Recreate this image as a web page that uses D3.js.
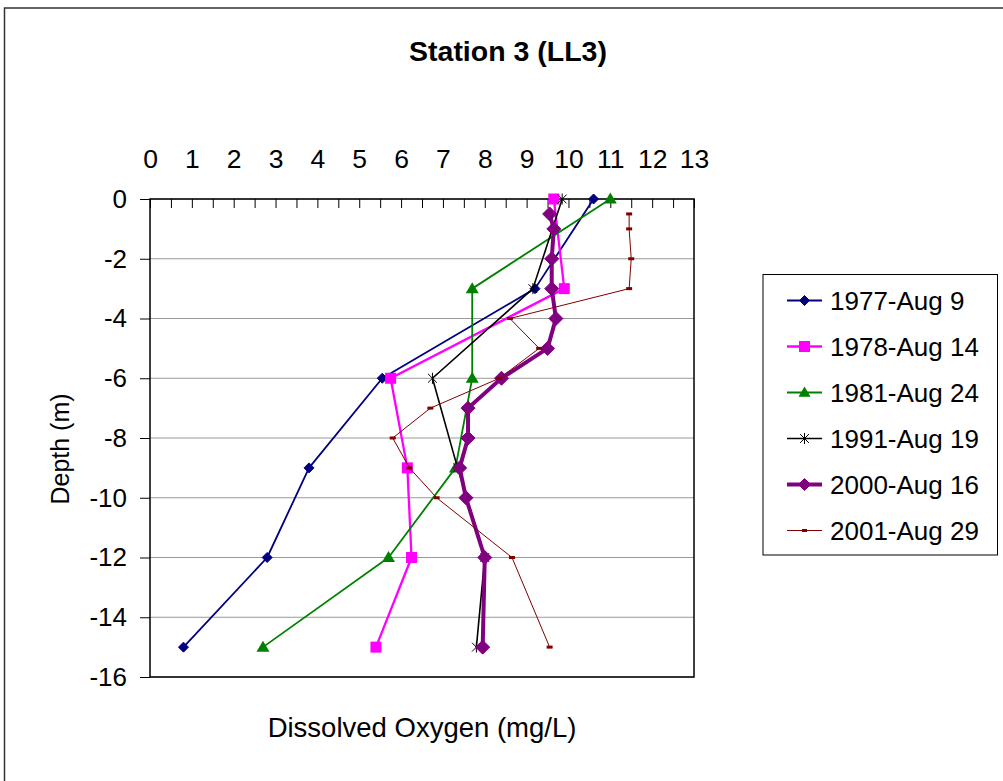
<!DOCTYPE html>
<html>
<head>
<meta charset="utf-8">
<script src="https://cdn.jsdelivr.net/npm/d3@7"></script>
<style>
  html, body { margin: 0; padding: 0; background: #fff; }
  svg { display: block; }
  text { font-family: "Liberation Sans", Arial, sans-serif; fill: #000; }
</style>
</head>
<body>
<svg id="chart" width="1003" height="781"></svg>
<script>
// Dissolved oxygen profiles (mg/L) against depth (m) at Station 3
const depthsStd = [0, -3, -6, -9, -12, -15];
const do1977 = [10.6, 9.2, 5.55, 3.8, 2.8, 0.8];
const do1978 = [9.65, 9.9, 5.75, 6.15, 6.25, 5.4];
const do1981 = [11.0, 7.7, 7.7, 7.3, 5.7, 2.7];
const do1991 = [9.85, 9.15, 6.75, 7.35, 8.0, 7.8];
const depthsFine = [-0.5, -1, -2, -3, -4, -5, -6, -7, -8, -9, -10, -12, -15];
const do2000 = [9.55, 9.65, 9.6, 9.6, 9.7, 9.5, 8.4, 7.6, 7.6, 7.4, 7.55, 8.0, 7.95];
const do2001 = [11.45, 11.45, 11.5, 11.45, 8.6, 9.3, 8.35, 6.7, 5.8, 6.2, 6.85, 8.65, 9.55];

const seriesNames = ["1977-Aug 9", "1978-Aug 14", "1981-Aug 24", "1991-Aug 19", "2000-Aug 16", "2001-Aug 29"];
const xTickLabels = d3.range(0, 14);
const yTickLabels = d3.range(-16, 1, 2);

const series = [
  { name: seriesNames[0], depth: depthsStd, values: do1977, color: "#000080", width: 1.8, marker: "diamond", size: 5 },
  { name: seriesNames[1], depth: depthsStd, values: do1978, color: "#FF00FF", width: 2.3, marker: "square", size: 5.5 },
  { name: seriesNames[2], depth: depthsStd, values: do1981, color: "#008000", width: 1.8, marker: "triangle", size: 6.5 },
  { name: seriesNames[3], depth: depthsStd, values: do1991, color: "#000000", width: 1.6, marker: "star", size: 5.5 },
  { name: seriesNames[4], depth: depthsFine, values: do2000, color: "#800080", width: 4, marker: "diamond", size: 7 },
  { name: seriesNames[5], depth: depthsFine, values: do2001, color: "#800000", width: 1, marker: "dash", size: 3 }
];

const FONT = "Liberation Sans, Arial, sans-serif";
const svg = d3.select("#chart");

// outer chart frame
svg.append("rect")
  .attr("x", 4.5).attr("y", 8).attr("width", 1010).attr("height", 800)
  .attr("fill", "#fff").attr("stroke", "#333").attr("stroke-width", 1.5);

const x = d3.scaleLinear().domain([0, 13]).range([150, 694]);
const y = d3.scaleLinear().domain([-16, 0]).range([677, 199]);

// horizontal gridlines
svg.append("g")
  .selectAll("line")
  .data(yTickLabels)
  .join("line")
  .attr("x1", x(0)).attr("x2", x(13))
  .attr("y1", d => y(d)).attr("y2", d => y(d))
  .attr("stroke", "#999").attr("stroke-width", 1);

// top axis: ticks every 0.5, pointing into the plot, labels on integers
const xAxis = d3.axisTop(x)
  .tickValues(d3.range(0, 13.01, 0.5))
  .tickSizeInner(-9).tickSizeOuter(0)
  .tickPadding(31)
  .tickFormat(d => xTickLabels.includes(d) ? String(d) : "");
const gx = svg.append("g").attr("transform", `translate(0,${y(0)})`).call(xAxis);
gx.select(".domain").remove();
gx.selectAll(".tick line").attr("stroke", "#000").attr("stroke-width", 1);
gx.selectAll("text").style("font-size", "26.5px").style("font-family", FONT).attr("fill", "#000");

const yAxis = d3.axisLeft(y)
  .tickValues(yTickLabels)
  .tickSizeInner(10).tickSizeOuter(0)
  .tickPadding(13)
  .tickFormat(d => String(d));
const gy = svg.append("g").attr("transform", `translate(${x(0)},0)`).call(yAxis);
gy.select(".domain").remove();
gy.selectAll(".tick line").attr("stroke", "#000").attr("stroke-width", 1);
gy.selectAll("text").style("font-size", "26px").style("font-family", FONT).attr("fill", "#000");

// plot border
svg.append("rect")
  .attr("x", x(0)).attr("y", y(0))
  .attr("width", x(13) - x(0)).attr("height", y(-16) - y(0))
  .attr("fill", "none").attr("stroke", "#000").attr("stroke-width", 1.5);

function drawMarker(g, type, cx, cy, s, color) {
  if (type === "diamond") {
    g.append("path").attr("d", `M${cx},${cy - s}L${cx + s},${cy}L${cx},${cy + s}L${cx - s},${cy}Z`)
      .attr("fill", color).attr("stroke", color).attr("stroke-width", 1);
  } else if (type === "square") {
    g.append("rect").attr("x", cx - s).attr("y", cy - s).attr("width", 2 * s).attr("height", 2 * s)
      .attr("fill", color);
  } else if (type === "triangle") {
    g.append("path").attr("d", `M${cx},${cy - s}L${cx + s},${cy + s * 0.7}L${cx - s},${cy + s * 0.7}Z`)
      .attr("fill", color);
  } else if (type === "star") {
    const d = s * 0.8;
    g.append("path")
      .attr("d", `M${cx - d},${cy - d}L${cx + d},${cy + d}M${cx - d},${cy + d}L${cx + d},${cy - d}M${cx},${cy - s}L${cx},${cy + s}`)
      .attr("stroke", color).attr("stroke-width", 1).attr("fill", "none");
  } else if (type === "dash") {
    g.append("rect").attr("x", cx - s).attr("y", cy - 1.5).attr("width", 2 * s).attr("height", 3)
      .attr("fill", color);
  }
}

const line = d3.line();
series.forEach(s => {
  const g = svg.append("g");
  const pts = s.values.map((v, i) => [x(v), y(s.depth[i])]);
  g.append("path").attr("d", line(pts))
    .attr("fill", "none").attr("stroke", s.color).attr("stroke-width", s.width)
    .attr("stroke-linejoin", "round");
  pts.forEach(p => drawMarker(g, s.marker, p[0], p[1], s.size, s.color));
});

// title and axis titles
svg.append("text").attr("x", 508).attr("y", 61).attr("text-anchor", "middle")
  .style("font-size", "28.5px").style("font-weight", "bold").text("Station 3 (LL3)");
svg.append("text").attr("x", (x(0) + x(13)) / 2).attr("y", 737).attr("text-anchor", "middle")
  .style("font-size", "27.5px").text("Dissolved Oxygen (mg/L)");
svg.append("text").attr("transform", `translate(69,449) rotate(-90)`)
  .attr("text-anchor", "middle")
  .style("font-size", "25px").text("Depth (m)");

// legend
const legend = svg.append("g");
legend.append("rect").attr("x", 763).attr("y", 274.5).attr("width", 234.5).attr("height", 280.5)
  .attr("fill", "#fff").attr("stroke", "#000").attr("stroke-width", 1);
series.forEach((s, i) => {
  const cy = 300.5 + i * 46;
  const g = legend.append("g");
  g.append("line").attr("x1", 787).attr("x2", 822).attr("y1", cy).attr("y2", cy)
    .attr("stroke", s.color).attr("stroke-width", s.width);
  drawMarker(g, s.marker, 804.5, cy, s.marker === "dash" ? 2.5 : Math.min(s.size, 6), s.color);
  g.append("text").attr("x", 830).attr("y", cy + 9.5).style("font-size", "26px").text(s.name);
});
</script>
</body>
</html>
